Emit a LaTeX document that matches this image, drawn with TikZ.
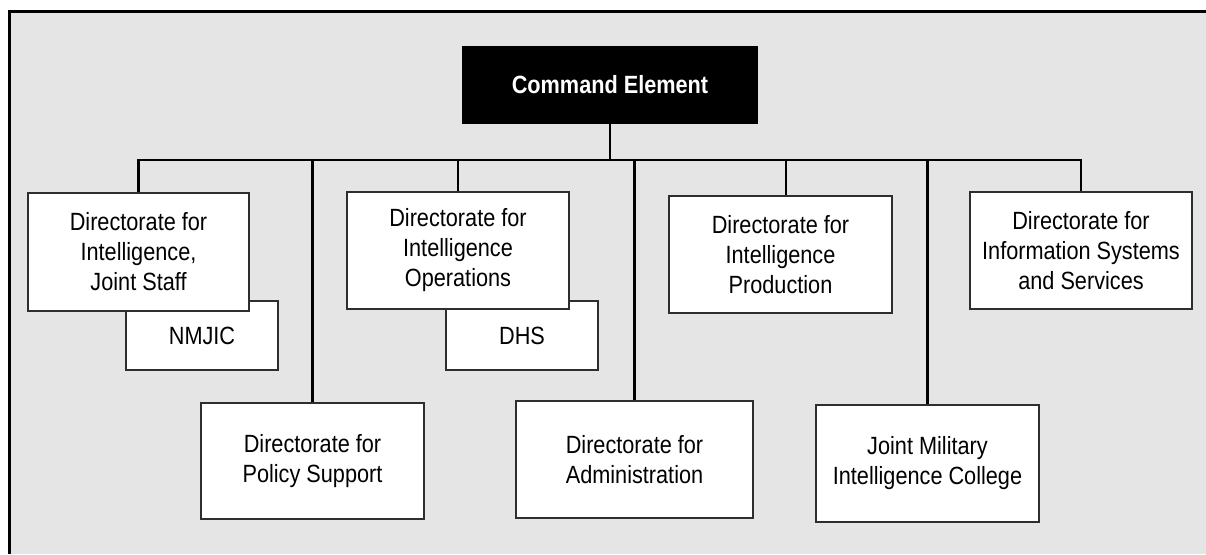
\documentclass[tikz,border=0pt]{standalone}
\usepackage{fontspec}
\setmainfont{Liberation Sans}[FakeStretch=0.87]
\definecolor{bg}{HTML}{E5E5E5}
\definecolor{edge}{HTML}{2E2E2E}
\begin{document}
\begin{tikzpicture}[x=0.75pt,y=-0.75pt,
  box/.style={draw=edge,line width=1.3pt,fill=white,inner sep=0pt,align=center,
    font=\fontsize{18.7}{22.5}\selectfont},
  cmdbox/.style={box,fill=black,draw=black,text=white,font=\fontsize{18.7}{22.5}\selectfont\bfseries},
  link/.style={draw=black,line width=1.7pt,line join=miter}]
\useasboundingbox (0,0) rectangle (1206,554);
\fill[bg] (9.5,11.5) rectangle (1206,554);
\draw[line width=2.3pt,black] (9.5,554) -- (9.5,11.5) -- (1206,11.5);
% nodes
\node[cmdbox,minimum width=294*0.75pt,minimum height=76*0.75pt] (cmd) at (610,85) {Command Element};
\node[box,minimum width=152*0.75pt,minimum height=69*0.75pt] (nmjic) at (202,335.5) {NMJIC};
\node[box,minimum width=221*0.75pt,minimum height=118*0.75pt] (dij) at (138.5,252) {Directorate for\\Intelligence,\\Joint Staff};
\node[box,minimum width=152*0.75pt,minimum height=69*0.75pt] (dhs) at (522,335.5) {DHS};
\node[box,minimum width=222*0.75pt,minimum height=117*0.75pt] (dio) at (458,250.5) {Directorate for\\Intelligence\\Operations};
\node[box,minimum width=223*0.75pt,minimum height=117*0.75pt] (dip) at (780.5,254.5) {Directorate for\\Intelligence\\Production};
\node[box,minimum width=222*0.75pt,minimum height=117*0.75pt] (diss) at (1081,250.5) {Directorate for\\Information Systems\\and Services};
\node[box,minimum width=223*0.75pt,minimum height=116*0.75pt] (dps) at (312.5,461) {Directorate for\\Policy Support};
\node[box,minimum width=237*0.75pt,minimum height=117*0.75pt] (da) at (634.5,459.5) {Directorate for\\Administration};
\node[box,minimum width=223*0.75pt,minimum height=117*0.75pt] (jmic) at (927.5,463.5) {Joint Military\\Intelligence College};
% connectors
\coordinate (bus) at (610,160);
\draw[link] (cmd.south) -- (bus);
\draw[link] (dij.north) -- (dij.north |- bus) -- (bus -| diss.north) -- (diss.north);
\draw[link] (dps.north) -- (dps.north |- bus);
\draw[link] (dio.north) -- (dio.north |- bus);
\draw[link] (da.north) -- (da.north |- bus);
\draw[link] ([xshift=4.1pt]dip.north) -- ([xshift=4.1pt]dip.north |- bus);
\draw[link] (jmic.north) -- (jmic.north |- bus);
\end{tikzpicture}
\end{document}
